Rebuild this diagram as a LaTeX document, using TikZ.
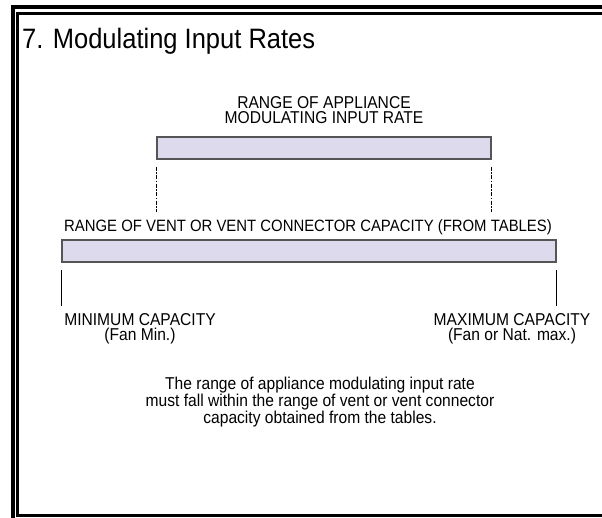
\documentclass[tikz,border=0pt]{standalone}
\usepackage{fontspec}
\setmainfont{Liberation Sans}
\usetikzlibrary{positioning}

\definecolor{barfill}{HTML}{DCDAEC}
\definecolor{baredge}{HTML}{555555}

% stretch text a bit in height, as the slide does
\newcommand{\tall}[1]{\scalebox{1}[1.1]{#1}}

\tikzset{
  rangebar/.style={draw=baredge, line width=1.2pt, fill=barfill, inner sep=0pt, minimum height=22pt},
  lbl/.style={inner sep=0pt, align=center, font=\fontsize{15.6}{15}\selectfont},
  limit/.style={line width=0.9pt},
  edge/.style={line width=0.9pt, dash pattern=on 4pt off 1.5pt on 1.5pt off 1.5pt}
}

\begin{document}
\begin{tikzpicture}[x=1pt, y=-1pt]
  \useasboundingbox (0,0) rectangle (602,517);
  \clip (0,0) rectangle (602,517);

  % frame
  \draw[line width=4pt] (13,7) rectangle (640,560);
  \draw[line width=3pt] (17.5,13.5) rectangle (640,515.5);

  % title
  \node[anchor=base west, inner sep=0pt, font=\fontsize{25.5}{30}\selectfont] (title) at (22,48) {\tall{7. Modulating Input Rates}};

  % appliance range
  \node[lbl] (applbl) at (324,110) {\tall{RANGE OF APPLIANCE}\\\tall{MODULATING INPUT RATE}};
  \node[rangebar, minimum width=334pt] (appbar) at (324,148) {};
  \coordinate (appL) at ([yshift=-52pt]appbar.south west);
  \coordinate (appR) at ([yshift=-52pt]appbar.south east);
  \draw[edge] ([yshift=-7pt]appbar.south west) -- (appL);
  \draw[edge] ([yshift=-7pt]appbar.south east) -- (appR);

  % vent range
  \node[lbl, font=\fontsize{14.9}{15}\selectfont] (ventlbl) at (308,227) {\tall{RANGE OF VENT OR VENT CONNECTOR CAPACITY (FROM TABLES)}};
  \node[rangebar, minimum width=494pt] (ventbar) at (309,251) {};
  \coordinate (minpt) at ([yshift=-43pt]ventbar.south west);
  \coordinate (maxpt) at ([yshift=-43pt]ventbar.south east);
  \draw[limit] ([yshift=-7pt]ventbar.south west) -- (minpt);
  \draw[limit] ([yshift=-7pt]ventbar.south east) -- (maxpt);

  % capacity limits
  \node[lbl] (mincap) at (140,329) {\tall{MINIMUM CAPACITY}\\\tall{(Fan Min.)}};
  \node[lbl] (maxcap) at (512,329) {\tall{MAXIMUM CAPACITY}\\\tall{(Fan or Nat. max.)}};

  % note
  \node[lbl, font=\fontsize{15.6}{14.5}\selectfont] (note) at (320,402) {\tall{The range of appliance modulating input rate}\\\tall{must fall within the range of vent or vent connector}\\\tall{capacity obtained from the tables.}};
\end{tikzpicture}
\end{document}
